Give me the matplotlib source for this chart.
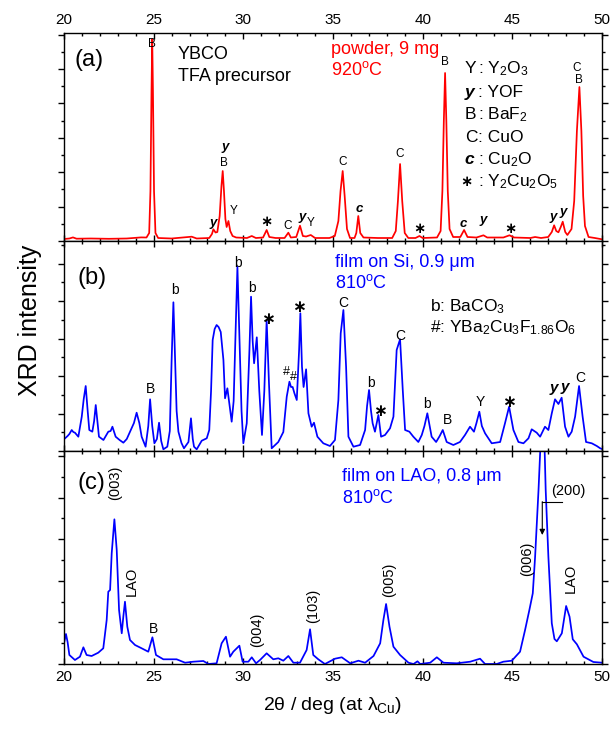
import numpy as np
import matplotlib
matplotlib.use("Agg")
import matplotlib.pyplot as plt
from matplotlib.ticker import MultipleLocator

plt.rcParams['font.family'] = ['Liberation Sans', 'DejaVu Sans']
plt.rcParams['mathtext.fontset'] = 'custom'
plt.rcParams['mathtext.rm'] = 'Liberation Sans'
plt.rcParams['mathtext.it'] = 'Liberation Sans:italic'
plt.rcParams['mathtext.bf'] = 'Liberation Sans:bold'
plt.rcParams['mathtext.default'] = 'regular'

STAR = "\u2217"

# ---- data: (2theta, intensity a.u.) ----
# (a) powder, 920C
powder_920 = [
    (20.0, 2), (20.3, 2.5), (20.5, 3.6), (20.7, 2.3), (21.5, 2.5), (22.5, 2.2),
    (23.5, 2.5), (24.3, 3.6), (24.6, 3.5), (24.75, 8), (24.82, 50), (24.88, 150),
    (24.92, 202), (24.96, 150), (25.02, 50), (25.1, 8), (25.25, 3), (26.0, 2.5),
    (27.12, 4.3), (27.4, 2.5), (28.1, 3), (28.25, 7), (28.33, 11.7), (28.45, 8.5),
    (28.55, 9), (28.68, 25), (28.78, 55), (28.85, 70), (28.92, 50), (29.0, 22),
    (29.07, 14), (29.17, 20), (29.27, 10), (29.4, 5), (29.6, 3.5), (30.2, 3),
    (30.47, 5), (30.7, 3), (31.1, 3.5), (31.3, 11), (31.45, 4), (31.8, 3),
    (32.3, 3), (32.51, 8.3), (32.65, 3.5), (32.95, 4), (33.16, 15.3), (33.32, 5),
    (33.5, 4.5), (33.76, 6), (34.0, 3), (34.8, 3), (35.1, 5), (35.3, 20),
    (35.42, 50), (35.54, 70), (35.65, 45), (35.78, 12), (35.95, 3), (36.2, 3),
    (36.3, 8), (36.41, 25), (36.52, 8), (36.7, 3.5), (37.5, 3), (38.3, 3),
    (38.5, 10), (38.62, 40), (38.74, 77), (38.86, 40), (39.0, 8), (39.2, 3),
    (39.6, 3), (39.82, 5), (40.0, 3), (40.8, 3.5), (41.0, 10), (41.1, 50),
    (41.18, 120), (41.25, 168), (41.32, 120), (41.4, 50), (41.5, 12), (41.7, 4),
    (42.1, 4), (42.31, 11), (42.5, 4), (43.0, 3.5), (43.39, 5.7), (43.6, 3.5),
    (44.5, 3.5), (44.84, 5.7), (45.1, 3.5), (46.0, 3), (46.27, 4), (46.6, 3),
    (47.0, 4), (47.2, 9), (47.33, 15.7), (47.45, 10), (47.57, 8.7), (47.7, 14),
    (47.81, 19.3), (47.95, 9), (48.07, 6), (48.3, 12), (48.45, 40), (48.6, 110),
    (48.74, 154), (48.85, 110), (48.95, 45), (49.05, 15), (49.25, 4), (49.6, 3),
    (50.0, 1.7),
]

# (b) film on Si, 810C
film_si = [
    (20.0, 12), (20.06, 12.7), (20.2, 15), (20.3, 17), (20.43, 21), (20.52, 19),
    (20.61, 18.3), (20.8, 14.3), (20.99, 34.3), (21.1, 52), (21.21, 65), (21.32, 40),
    (21.41, 21), (21.58, 19.3), (21.68, 30), (21.77, 46), (21.86, 30), (21.95, 14.3),
    (22.2, 11), (22.47, 19.3), (22.6, 20), (22.7, 24.3), (22.88, 14.3), (23.1, 11),
    (23.31, 8.3), (23.5, 12), (23.68, 19.3), (23.9, 28), (24.05, 38.3), (24.2, 28),
    (24.33, 14.3), (24.55, 4.3), (24.7, 25), (24.8, 51.7), (24.92, 25), (25.04, 7.7),
    (25.18, 12), (25.3, 28.3), (25.42, 10), (25.54, 1.7), (25.76, 4.3), (25.9, 20),
    (26.0, 90), (26.1, 148.7), (26.2, 90), (26.28, 40), (26.38, 19.3), (26.55, 8),
    (26.69, 2.7), (26.94, 9), (27.08, 32.7), (27.18, 12), (27.25, 4.3), (27.4, 1.7),
    (27.68, 10.3), (27.96, 12.7), (28.1, 21), (28.2, 60), (28.29, 111), (28.4, 122),
    (28.51, 126), (28.62, 124), (28.74, 119), (28.89, 91), (28.98, 52.7), (29.11, 62.7),
    (29.22, 47.7), (29.35, 29.3), (29.46, 50), (29.54, 101), (29.67, 184.3), (29.8, 101),
    (29.9, 40), (30.0, 7.7), (30.19, 27.7), (30.34, 101), (30.43, 154.3), (30.52, 110),
    (30.6, 87.7), (30.75, 113.7), (30.89, 60), (31.04, 16), (31.17, 60), (31.3, 131),
    (31.43, 67.7), (31.58, 2.7), (31.95, 9), (32.23, 19), (32.42, 54.3), (32.57, 69.3),
    (32.66, 64), (32.75, 64), (32.85, 57.7), (32.98, 51), (33.11, 101), (33.18, 137.7),
    (33.27, 84.3), (33.36, 64), (33.5, 81.7), (33.63, 37.7), (33.81, 24.3), (33.94, 28.3),
    (34.13, 14.3), (34.46, 7.7), (34.83, 5), (35.11, 11), (35.3, 51), (35.43, 117.7),
    (35.58, 141), (35.73, 84.3), (35.86, 14.3), (36.14, 4.3), (36.51, 6), (36.79, 21),
    (36.9, 45), (37.01, 61), (37.12, 40), (37.21, 27.7), (37.34, 19.3), (37.53, 36),
    (37.68, 14.3), (37.9, 16), (38.18, 22.7), (38.37, 34.3), (38.55, 101), (38.74, 111.7),
    (38.89, 61), (39.02, 21), (39.26, 19.3), (39.48, 14.3), (39.76, 9), (39.95, 16),
    (40.1, 25), (40.26, 37.7), (40.5, 14.3), (40.75, 9), (40.95, 15), (41.12, 21),
    (41.34, 9), (41.71, 6), (42.08, 9), (42.36, 16), (42.64, 24.3), (42.86, 19.3),
    (43.0, 28), (43.16, 39.3), (43.3, 25), (43.48, 17.7), (43.85, 7.7), (44.32, 9),
    (44.59, 27.7), (44.82, 44.3), (45.06, 21), (45.34, 9), (45.62, 7.7), (45.9, 12.7),
    (46.08, 21.7), (46.36, 18.3), (46.55, 14.3), (46.82, 24.3), (47.01, 21), (47.2, 37.7),
    (47.38, 51.7), (47.57, 47), (47.75, 53.3), (47.94, 24.3), (48.13, 14.3), (48.31, 19.3),
    (48.5, 34.3), (48.72, 65), (48.92, 34.3), (49.11, 9), (49.43, 7.7), (49.71, 5),
    (49.9, 2.7), (50.0, 2),
]

# (c) film on LAO, 810C
film_lao = [
    (20.0, 20.7), (20.11, 30), (20.2, 22), (20.3, 9), (20.61, 4), (20.89, 7.3),
    (21.08, 16.7), (21.26, 9), (21.54, 8), (21.91, 11.3), (22.19, 15.7), (22.38, 44),
    (22.47, 72.3), (22.57, 74), (22.66, 110.7), (22.81, 144.7), (22.94, 114), (23.07, 54),
    (23.22, 30.7), (23.31, 47.7), (23.4, 62.3), (23.53, 37.3), (23.68, 24), (23.96, 19),
    (24.33, 15.7), (24.7, 12.3), (24.93, 26.7), (25.13, 9), (25.54, 4.7), (26.28, 4.7),
    (26.75, 1.3), (27.21, 2.3), (27.77, 3), (28.05, 0), (28.51, 0.7), (28.79, 20.7),
    (29.03, 27.3), (29.26, 7.3), (29.44, 12.3), (29.78, 18.3), (29.96, 2.3), (30.28, 2.3),
    (30.47, 6.7), (30.71, 0.7), (30.93, 4), (31.3, 10.7), (31.67, 4.7), (31.95, 5.7),
    (32.23, 3.3), (32.51, 8), (32.79, 1.3), (33.16, 1.3), (33.53, 14), (33.72, 34.7),
    (33.9, 9), (34.18, 4.7), (34.55, 0), (35.11, 5.3), (35.49, 6.7), (35.96, 0.7),
    (36.42, 3.3), (36.79, 1.3), (37.26, 8), (37.63, 20.7), (37.81, 44), (37.96, 60),
    (38.15, 37.3), (38.37, 17.3), (38.74, 9), (39.21, 1.3), (39.49, 0), (39.71, 2.7),
    (39.86, 0), (40.42, 1.3), (40.79, 6.7), (41.16, 1.3), (41.9, 0.7), (42.65, 2.3),
    (43.2, 5.3), (43.48, 0), (44.13, 0), (44.5, 2.3), (44.97, 3.3), (45.43, 12.3),
    (45.71, 34), (45.95, 54), (46.14, 70.7), (46.27, 107.3), (46.46, 174), (46.56, 215),
    (46.68, 280), (46.8, 215), (46.86, 174), (47.01, 107.3), (47.2, 40.7), (47.35, 25),
    (47.48, 22.7), (47.76, 30.7), (48.0, 58), (48.19, 47.3), (48.37, 24.7), (48.6, 19.7),
    (48.97, 7.3), (49.52, 2), (50.0, 1.3),
]

# peak labels: (2theta, height, text)
labels_a = [(24.89, 196.7, "B"), (28.92, 78.3, "B"), (29.48, 30.3, "Y"),
            (32.47, 15, "C"), (33.78, 18.3, "Y"), (35.55, 78.7, "C"),
            (38.69, 86.7, "C"), (41.22, 178.7, "B"), (48.6, 173.3, "C"),
            (48.71, 161, "B")]
labels_a_y = [(28.98, 94.3, "y"), (28.33, 18.3, "y"), (33.31, 23.7, "y"),
              (43.39, 21, "y"), (47.26, 24.3, "y"), (47.85, 29.3, "y"),
              (36.48, 31.7, "c"), (42.27, 17, "c")]
stars_a = [(31.3, 19.3), (39.82, 11.7), (44.88, 11.7)]

labels_b = [(24.85, 61.7, "B"), (26.21, 161, "b"), (29.69, 187.7, "b"),
            (30.47, 162.7, "b"), (35.58, 147.7, "C"), (37.1, 68.3, "b"),
            (38.74, 115, "C"), (40.23, 47, "b"), (41.38, 31, "B"),
            (43.2, 49.3, "Y"), (48.78, 72.7, "C")]
labels_b_hash = [(32.38, 79, "#"), (32.8, 73.5, "#")]
labels_b_y = [(47.29, 62.7, "y"), (47.94, 64.3, "y")]
stars_b = [(31.4, 132), (33.12, 143.7), (37.62, 40), (44.84, 48.3)]

labels_c_rot = [(22.85, 181, "(003)"), (23.77, 83, "LAO"), (30.75, 34, "(004)"),
                (33.9, 58, "(103)"), (38.14, 84, "(005)"), (45.8, 105, "(006)"),
                (48.26, 86, "LAO")]

fig = plt.figure(figsize=(6.13, 7.29), dpi=100)
gs = fig.add_gridspec(3, 1, left=64/613, right=602/613, top=1-33/729,
                      bottom=1-664/729, hspace=0, height_ratios=[208, 210, 213])
ax1 = fig.add_subplot(gs[0])
ax2 = fig.add_subplot(gs[1], sharex=ax1)
ax3 = fig.add_subplot(gs[2], sharex=ax1)

xa, ya = np.array(powder_920).T
xb, yb = np.array(film_si).T
xc, yc = np.array(film_lao).T
ax1.plot(xa, ya, color="#ff0000", lw=1.25)
ax2.plot(xb, yb, color="#0000ff", lw=1.25)
ax3.plot(xc, yc, color="#0000ff", lw=1.25)

ylims = [208, 210, 213]
ysteps = [34.4, 37.5, 41.6]
for ax, ym, st in zip([ax1, ax2, ax3], ylims, ysteps):
    ax.set_xlim(20, 50)
    ax.set_ylim(0, ym)
    ax.xaxis.set_major_locator(MultipleLocator(5))
    ax.xaxis.set_minor_locator(MultipleLocator(1))
    ax.yaxis.set_major_locator(MultipleLocator(st))
    ax.yaxis.set_minor_locator(MultipleLocator(st / 2))
    ax.tick_params(axis='x', which='both', direction='in', top=True, bottom=True,
                   labelbottom=False, labeltop=False, labelsize=11, pad=4)
    ax.tick_params(axis='x', which='major', length=4.5, width=1)
    ax.tick_params(axis='x', which='minor', length=2.5, width=1)
    ax.tick_params(axis='y', which='both', direction='out', left=True, right=True,
                   labelleft=False, width=1)
    ax.tick_params(axis='y', which='major', length=4.5)
    ax.tick_params(axis='y', which='minor', length=2.3)
    for sp in ax.spines.values():
        sp.set_linewidth(1.0)
ax1.tick_params(axis='x', labeltop=True)
ax3.tick_params(axis='x', labelbottom=True)

# panel (a) texts
ax1.text(0.02, 0.87, "(a)", transform=ax1.transAxes, fontsize=17, va='center')
ax1.text(0.212, 0.899, "YBCO", transform=ax1.transAxes, fontsize=13, va='center')
ax1.text(0.212, 0.793, "TFA precursor", transform=ax1.transAxes, fontsize=13, va='center')
ax1.text(0.496, 0.923, "powder, 9 mg", transform=ax1.transAxes, fontsize=13,
         va='center', color="#ff0000")
ax1.text(0.496, 0.822, "920$^{o}$C", transform=ax1.transAxes, fontsize=13,
         va='center', color="#ff0000")
leg_sym = ["Y", "y", "B", "C", "c"]
leg_txt = [": Y$_2$O$_3$", ": YOF", ": BaF$_2$", ": CuO", ": Cu$_2$O",
           ": Y$_2$Cu$_2$O$_5$"]
leg_y = [0.827, 0.715, 0.609, 0.5, 0.393, 0.284]
for s, yy in zip(leg_sym, leg_y):
    bold = s in ("y", "c")
    ax1.text(0.745, yy, s, transform=ax1.transAxes, fontsize=12.5,
             va='center', fontweight='bold' if bold else 'normal',
             fontstyle='italic' if bold else 'normal')
ax1.text(0.737, leg_y[5], STAR, transform=ax1.transAxes, fontsize=10.5,
         va='center', fontweight='bold')
for t, yy in zip(leg_txt, leg_y):
    ax1.text(0.77, yy, t, transform=ax1.transAxes, fontsize=12.5, va='center')

for x, y, s in labels_a:
    ax1.text(x, y, s, ha='center', va='center', fontsize=8.5)
for x, y, s in labels_a_y:
    ax1.text(x, y, s, ha='center', va='center', fontsize=9.5,
             fontweight='bold', fontstyle='italic')
for x, y in stars_a:
    ax1.text(x, y, STAR, ha='center', va='center', fontsize=10.5, fontweight='bold')

# panel (b) texts
ax2.text(0.026, 0.824, "(b)", transform=ax2.transAxes, fontsize=17, va='center')
ax2.text(0.504, 0.897, "film on Si, 0.9 \u03bcm", transform=ax2.transAxes,
         fontsize=13, va='center', color="#0000ff")
ax2.text(0.504, 0.8, "810$^{o}$C", transform=ax2.transAxes, fontsize=13,
         va='center', color="#0000ff")
ax2.text(0.68, 0.686, "b: BaCO$_3$", transform=ax2.transAxes, fontsize=12.5, va='center')
ax2.text(0.68, 0.586, "#: YBa$_2$Cu$_3$F$_{1.86}$O$_6$", transform=ax2.transAxes,
         fontsize=12.5, va='center')
for x, y, s in labels_b:
    ax2.text(x, y, s, ha='center', va='center', fontsize=10)
for x, y, s in labels_b_hash:
    ax2.text(x, y, s, ha='center', va='center', fontsize=9)
for x, y, s in labels_b_y:
    ax2.text(x, y, s, ha='center', va='center', fontsize=11,
             fontweight='bold', fontstyle='italic')
for x, y in stars_b:
    ax2.text(x, y, STAR, ha='center', va='center', fontsize=12, fontweight='bold')

# panel (c) texts
ax3.text(0.026, 0.85, "(c)", transform=ax3.transAxes, fontsize=17, va='center')
ax3.text(0.517, 0.878, "film on LAO, 0.8 \u03bcm", transform=ax3.transAxes,
         fontsize=13, va='center', color="#0000ff")
ax3.text(0.517, 0.779, "810$^{o}$C", transform=ax3.transAxes, fontsize=13,
         va='center', color="#0000ff")
for x, y, s in labels_c_rot:
    ax3.text(x, y, s, ha='center', va='center', fontsize=10.5, rotation=90)
ax3.text(24.98, 35, "B", ha='center', va='center', fontsize=10)
ax3.text(48.13, 173, "(200)", ha='center', va='center', fontsize=10.5)
ax3.plot([47.76, 46.67], [162.3, 162.3], color='black', lw=0.8)
ax3.annotate("", xy=(46.67, 129), xytext=(46.67, 162.3),
             arrowprops=dict(arrowstyle='-|>', color='black', lw=0.8,
                             mutation_scale=8, shrinkA=0, shrinkB=0))

ax3.set_xlabel("2\u03b8 / deg (at \u03bb$_{Cu}$)", fontsize=14, labelpad=8)
fig.text(30/613, 1-320/729, "XRD intensity", rotation=90, fontsize=18,
         ha='center', va='center')

fig.savefig("out.png", dpi=100)
